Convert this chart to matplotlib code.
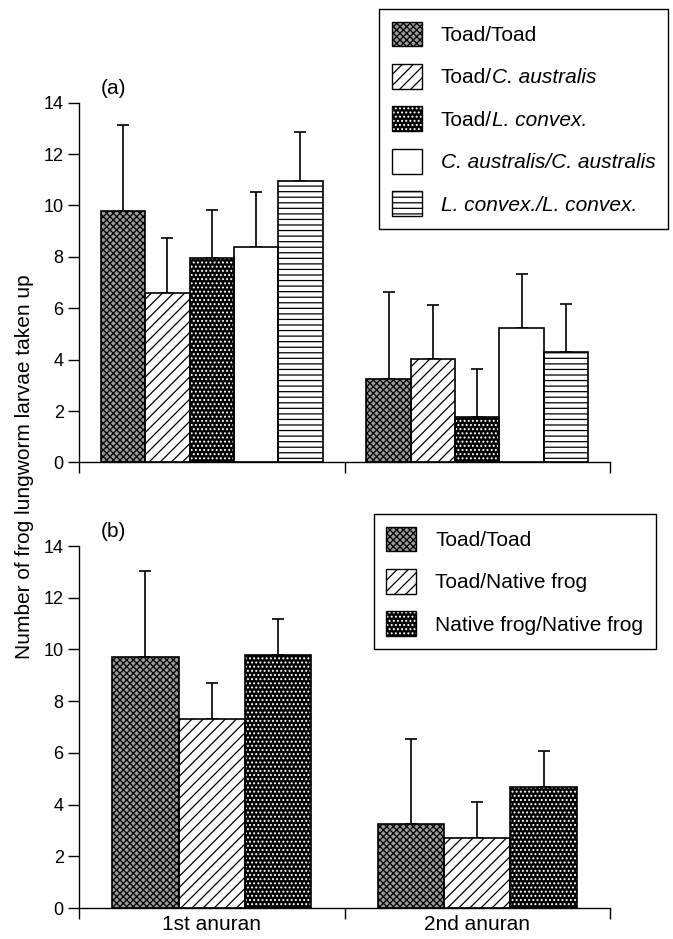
import numpy as np
import matplotlib.pyplot as plt

plt.rcParams['font.family'] = ['Liberation Sans', 'DejaVu Sans']
plt.rcParams['hatch.linewidth'] = 0.9

# data
groups = ['1st anuran', '2nd anuran']

# legend labels as (roman part, italic part)
labels_a = [('Toad/Toad', ''), ('Toad/', 'C. australis'), ('Toad/', 'L. convex.'),
            ('', 'C. australis/C. australis'), ('', 'L. convex./L. convex.')]
means_a = [[9.78, 3.26], [6.61, 4.02], [7.94, 1.78], [8.40, 5.22], [10.95, 4.31]]
errs_a = [[3.35, 3.37], [2.14, 2.12], [1.88, 1.87], [2.14, 2.13], [1.90, 1.87]]

labels_b = [('Toad/Toad', ''), ('Toad/Native frog', ''), ('Native frog/Native frog', '')]
means_b = [[9.72, 3.24], [7.30, 2.71], [9.79, 4.68]]
errs_b = [[3.32, 3.30], [1.39, 1.39], [1.38, 1.38]]

# (facecolor, hatch, hatchcolor) per series style
styles = {
    'toad': ('#9a9a9a', 'xxxxx', 'black'),
    'diag': ('white', '///', 'black'),
    'dots': ('black', '....', 'white'),
    'open': ('white', '', 'black'),
    'horiz': ('white', '---', 'black'),
}
order_a = ['toad', 'diag', 'dots', 'open', 'horiz']
order_b = ['toad', 'diag', 'dots']


def draw_panel(ax, means, errs, labels, order, width, tag, legend_anchor):
    n = len(means)
    centers = np.arange(len(groups)) + 0.5
    handles = []
    for i in range(n):
        fc, hatch, hc = styles[order[i]]
        x = centers + (i - (n - 1) / 2) * width
        ax.bar(x, means[i], width, color=fc, hatch=hatch, edgecolor=hc, linewidth=0, zorder=2)
        ax.bar(x, means[i], width, fill=False, edgecolor='black', linewidth=1.2, zorder=3)
        ax.errorbar(x, means[i], yerr=[np.zeros(len(groups)), errs[i]], fmt='none',
                    ecolor='black', elinewidth=1.2, capsize=4, capthick=1.2, zorder=1)
        h = plt.Rectangle((0, 0), 1, 1, facecolor=fc, hatch=hatch, edgecolor=hc, linewidth=0)
        handles.append(h)
    ax.set_xlim(0, 2)
    ax.set_ylim(0, 14)
    ax.set_yticks(range(0, 15, 2))
    ax.set_xticks([0, 1, 2])
    ax.set_xticklabels([])
    ax.set_xticks(centers, minor=True)
    ax.tick_params(axis='x', which='minor', length=0, labelsize=15, pad=5)
    ax.tick_params(axis='both', which='major', direction='out', length=8, width=1, labelsize=13, pad=3)
    for s in ['top', 'right']:
        ax.spines[s].set_visible(False)
    ax.spines['left'].set_linewidth(1)
    ax.spines['bottom'].set_linewidth(1)
    ax.text(0.04, 1.04, tag, transform=ax.transAxes, fontsize=15, va='center')

    # outlined legend handles via tuple (fill + black edge)
    edges = [plt.Rectangle((0, 0), 1, 1, fill=False, edgecolor='black', linewidth=1) for _ in handles]
    # reserve width with the full text, then split roman / italic parts
    full = [r + it for r, it in labels]
    leg = ax.legend(list(zip(handles, edges)), full, loc='upper right',
                    bbox_to_anchor=legend_anchor, bbox_transform=ax.figure.transFigure,
                    fontsize=15, handlelength=1.45, handleheight=1.45, labelspacing=0.85,
                    handletextpad=0.9, borderpad=0.6, fancybox=False, framealpha=1,
                    edgecolor='black', borderaxespad=0)
    leg.get_frame().set_linewidth(1)
    leg.set_zorder(5)
    for t, (r, it) in zip(leg.texts, labels):
        if not it:
            continue
        if not r:
            t.set_fontstyle('italic')
            continue
        t.set_text(r)
        ann = ax.annotate(it, xy=(1, 0), xycoords=t, va='bottom', ha='left',
                          fontsize=15, fontstyle='italic', annotation_clip=False)
        ann.set_zorder(6)


fig = plt.figure(figsize=(6.73, 9.39), dpi=100)
ax_a = fig.add_axes([0.1174, 0.5075, 0.789, 0.3832])
ax_b = fig.add_axes([0.1174, 0.0330, 0.789, 0.3855])

draw_panel(ax_a, means_a, errs_a, labels_a, order_a, 0.167, '(a)', (0.9926, 0.9904))
draw_panel(ax_b, means_b, errs_b, labels_b, order_b, 0.25, '(b)', (0.9743, 0.4526))
ax_b.set_xticklabels(groups, minor=True)

fig.text(0.037, 0.503, 'Number of frog lungworm larvae taken up', rotation=90,
         fontsize=15, ha='center', va='center')

fig.savefig('out.png', dpi=100)
